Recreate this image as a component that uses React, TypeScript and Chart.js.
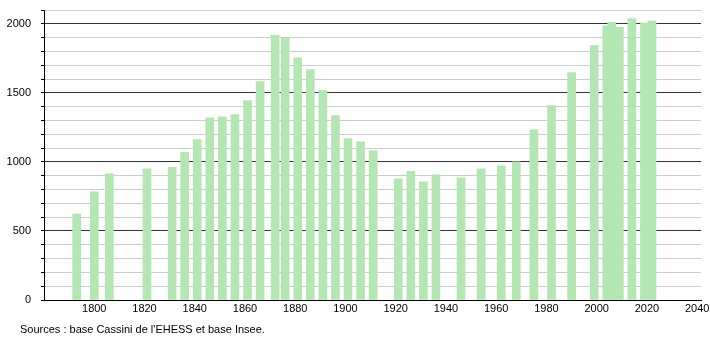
import React, { useEffect, useRef } from "react";
import { Chart, registerables } from "chart.js";

Chart.register(...registerables);

const years = [1793, 1800, 1806, 1821, 1831, 1836, 1841, 1846, 1851, 1856, 1861, 1866, 1872, 1876, 1881, 1886, 1891, 1896, 1901, 1906, 1911, 1921, 1926, 1931, 1936, 1946, 1954, 1962, 1968, 1975, 1982, 1990, 1999, 2004, 2006, 2009, 2014, 2019, 2022];
const population = [623, 783, 914, 950, 960, 1069, 1161, 1320, 1327, 1342, 1444, 1581, 1917, 1896, 1753, 1668, 1516, 1335, 1168, 1146, 1081, 878, 931, 856, 907, 885, 950, 972, 1001, 1233, 1407, 1647, 1843, 1985, 2010, 1975, 2038, 2006, 2020];
const xTickLabels = [1800, 1820, 1840, 1860, 1880, 1900, 1920, 1940, 1960, 1980, 2000, 2020, 2040];
const yTickValues = [0, 100, 200, 300, 400, 500, 600, 700, 800, 900, 1000, 1100, 1200, 1300, 1400, 1500, 1600, 1700, 1800, 1900, 2000, 2100];
const yLabelled = [0, 500, 1000, 1500, 2000];
const sourceText = "Sources : base Cassini de l'EHESS et base Insee.";

const FONT = "'Liberation Sans', Arial, Helvetica, sans-serif";

export default function App() {
  const ref = useRef<HTMLCanvasElement | null>(null);

  useEffect(() => {
    document.body.style.margin = "0";
    const canvas = ref.current;
    if (!canvas) return;
    const chart = new Chart(canvas, {
      type: "bar",
      data: {
        datasets: [
          {
            data: years.map((y, i) => ({ x: y, y: population[i] })),
            backgroundColor: "#b3e6b3",
            borderWidth: 0,
            barThickness: 8,
          },
        ],
      },
      options: {
        animation: false,
        responsive: false,
        devicePixelRatio: 1,
        layout: { padding: { left: 0, top: 10, right: 9, bottom: 0 } },
        plugins: { legend: { display: false }, tooltip: { enabled: false } },
        scales: {
          x: {
            type: "linear",
            offset: false,
            min: 1780,
            max: 2041.5,
            afterBuildTicks: (scale: any) => {
              scale.ticks = xTickLabels.map((v) => ({ value: v }));
            },
            afterFit: (scale: any) => {
              scale.height = 40;
              scale.paddingLeft = 0;
              scale.paddingRight = 0;
            },
            grid: { display: false, drawTicks: false, tickLength: 0, offset: false },
            border: { display: true, color: "#000", width: 1 },
            ticks: {
              autoSkip: false,
              maxRotation: 0,
              padding: 2,
              color: "#000",
              font: { family: FONT, size: 11 },
              callback: (v: any) => String(v),
            },
          },
          y: {
            type: "linear",
            min: 0,
            max: 2100,
            afterBuildTicks: (scale: any) => {
              scale.ticks = yTickValues.map((v) => ({ value: v }));
            },
            afterFit: (scale: any) => {
              scale.width = 44;
              scale.paddingTop = 0;
              scale.paddingBottom = 0;
            },
            grid: {
              color: (ctx: any) => (ctx.tick && yLabelled.includes(ctx.tick.value) ? "#333333" : "#cccccc"),
              tickColor: "#000",
              tickLength: 3,
              lineWidth: 1,
            },
            border: { display: true, color: "#000", width: 1 },
            ticks: {
              autoSkip: false,
              padding: 10,
              color: "#000",
              font: { family: FONT, size: 11 },
              callback: (v: any) => (yLabelled.includes(Number(v)) ? String(v) : ""),
            },
          },
        },
      },
    });
    return () => chart.destroy();
  }, []);

  return (
    <div style={{ position: "relative", width: 710, height: 340, background: "#fff" }}>
      <canvas ref={ref} width={710} height={340} style={{ width: 710, height: 340, display: "block" }} />
      <div
        style={{
          position: "absolute",
          left: 20,
          top: 323,
          fontFamily: FONT,
          fontSize: 11,
          lineHeight: "13px",
          color: "#000",
          whiteSpace: "nowrap",
        }}
      >
        {sourceText}
      </div>
    </div>
  );
}
